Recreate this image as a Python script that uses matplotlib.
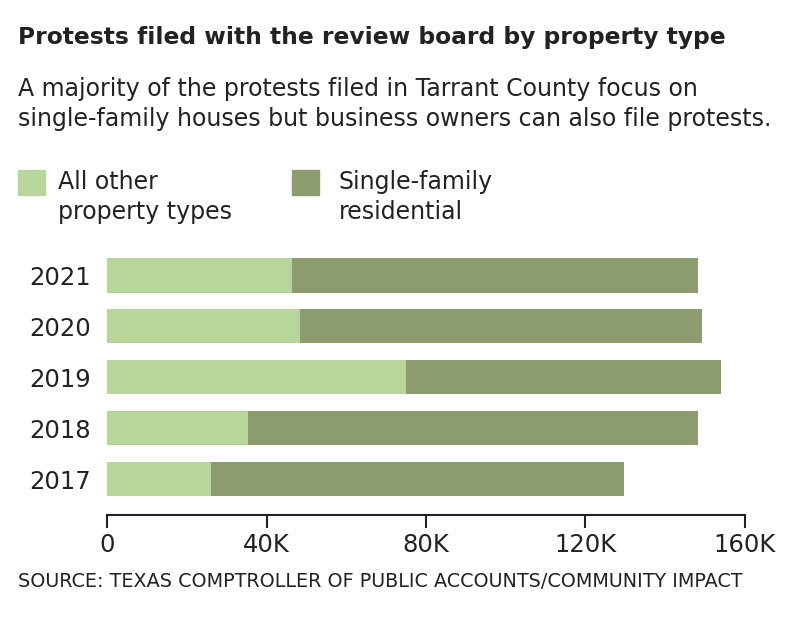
import matplotlib.pyplot as plt
from matplotlib.patches import Rectangle

# values in thousands of protests
years = ['2017', '2018', '2019', '2020', '2021']
other = [26.1, 35.4, 75.0, 48.4, 46.4]
single_family = [103.6, 112.8, 79.0, 100.8, 101.8]
xticks = [0, 40, 80, 120, 160]
xtick_labels = ['0', '40K', '80K', '120K', '160K']

light = '#b8d69c'
dark = '#8c9c6e'
txt = '#222222'

fig = plt.figure(figsize=(8, 6.19), dpi=100)
ax = fig.add_axes([0.134, 0.168, 0.797, 0.428])

pos = range(len(years))
ax.barh(pos, other, height=0.67, color=light)
ax.barh(pos, single_family, left=other, height=0.67, color=dark)

ax.set_xlim(0, 160)
ax.set_ylim(-0.706, 4.5)
ax.set_xticks(xticks)
ax.set_xticklabels(xtick_labels, fontsize=17.5, color=txt)
ax.set_yticks(list(pos))
ax.set_yticklabels(years, fontsize=17.5, color=txt)
ax.tick_params(axis='y', length=0, pad=12)
ax.tick_params(axis='x', length=9, width=1.5, color=txt, pad=4)
for s in ['top', 'right', 'left']:
    ax.spines[s].set_visible(False)
ax.spines['bottom'].set_linewidth(1.5)
ax.spines['bottom'].set_color(txt)

fig.text(0.022, 0.939, 'Protests filed with the review board by property type',
         fontsize=16.8, fontweight='bold', color=txt, va='center')
fig.text(0.022, 0.832, 'A majority of the protests filed in Tarrant County focus on\n'
         'single-family houses but business owners can also file protests.',
         fontsize=17, color=txt, va='center', linespacing=1.35)

# legend
fig.patches.append(Rectangle((0.022, 0.685), 0.034, 0.04, color=light, transform=fig.transFigure))
fig.patches.append(Rectangle((0.365, 0.685), 0.034, 0.04, color=dark, transform=fig.transFigure))
fig.text(0.073, 0.682, 'All other\nproperty types', fontsize=17, color=txt, va='center', linespacing=1.35)
fig.text(0.423, 0.682, 'Single-family\nresidential', fontsize=17, color=txt, va='center', linespacing=1.35)

fig.text(0.022, 0.06, 'SOURCE: TEXAS COMPTROLLER OF PUBLIC ACCOUNTS/COMMUNITY IMPACT',
         fontsize=13.8, color=txt, va='center')

fig.savefig('out.png', dpi=100)
